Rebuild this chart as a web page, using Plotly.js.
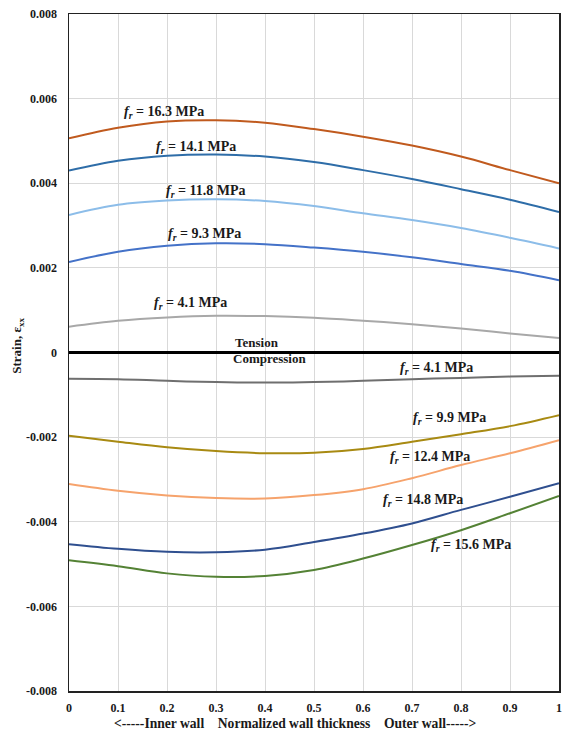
<!DOCTYPE html>
<html>
<head>
<meta charset="utf-8">
<script src="https://cdn.plot.ly/plotly-3.0.1.min.js"></script>
<style>
  html, body { margin: 0; padding: 0; background: #fff; }
  #chart { width: 564px; height: 737px; }
</style>
</head>
<body>
<div id="chart"></div>
<script>
// Normalized wall thickness positions
const xPos = [0, 0.1, 0.2, 0.3, 0.4, 0.5, 0.6, 0.7, 0.8, 0.9, 1.0];

// Tension curves
const t16_3 = [0.00506, 0.00531, 0.00546, 0.00549, 0.00543, 0.00528, 0.00510, 0.00489, 0.00463, 0.00431, 0.00400];
const t14_1 = [0.00430, 0.00453, 0.00465, 0.00468, 0.00463, 0.00450, 0.00431, 0.00410, 0.00386, 0.00361, 0.00332];
const t11_8 = [0.00325, 0.00349, 0.00359, 0.00362, 0.00358, 0.00346, 0.00329, 0.00313, 0.00294, 0.00271, 0.00246];
const t9_3  = [0.00214, 0.00238, 0.00252, 0.00258, 0.00256, 0.00248, 0.00238, 0.00225, 0.00209, 0.00193, 0.00171];
const t4_1  = [0.00061, 0.00075, 0.00083, 0.00087, 0.00086, 0.00082, 0.00075, 0.00067, 0.00057, 0.00045, 0.00034];

// Compression curves
const c4_1  = [-0.00062, -0.00063, -0.00067, -0.00070, -0.00071, -0.00070, -0.00067, -0.00063, -0.00060, -0.00057, -0.00055];
const c9_9  = [-0.00197, -0.00211, -0.00224, -0.00233, -0.00238, -0.00237, -0.00228, -0.00211, -0.00193, -0.00174, -0.00148];
const c12_4 = [-0.00311, -0.00327, -0.00338, -0.00344, -0.00345, -0.00337, -0.00323, -0.00297, -0.00266, -0.00238, -0.00207];
const c14_8 = [-0.00453, -0.00464, -0.00471, -0.00472, -0.00466, -0.00448, -0.00428, -0.00404, -0.00372, -0.00341, -0.00309];
const c15_6 = [-0.00491, -0.00505, -0.00522, -0.00530, -0.00528, -0.00514, -0.00487, -0.00455, -0.00420, -0.00380, -0.00339];

// Tick labels
const xTickVals = [0, 0.1, 0.2, 0.3, 0.4, 0.5, 0.6, 0.7, 0.8, 0.9, 1];
const xTickText = ["0", "0.1", "0.2", "0.3", "0.4", "0.5", "0.6", "0.7", "0.8", "0.9", "1"];
const yTickVals = [0.008, 0.006, 0.004, 0.002, 0, -0.002, -0.004, -0.006, -0.008];
const yTickText = ["0.008", "0.006", "0.004", "0.002", "0", "-0.002", "-0.004", "-0.006", "-0.008"];

// Curve labels (strength values) and where they sit
const labelNames = ["16.3", "14.1", "11.8", "9.3", "4.1", "4.1", "9.9", "12.4", "14.8", "15.6"];
const labelX = [0.194, 0.260, 0.279, 0.276, 0.247, 0.749, 0.777, 0.736, 0.723, 0.820];
const labelY = [0.00568, 0.00484, 0.00380, 0.00279, 0.00115, -0.00037, -0.00157, -0.00249, -0.00350, -0.00457];

const series = [
  {y: t16_3, color: "#C05A1E"},
  {y: t14_1, color: "#2E6DA8"},
  {y: t11_8, color: "#8CBDE9"},
  {y: t9_3,  color: "#4472C8"},
  {y: t4_1,  color: "#A8A8A8"},
  {y: c4_1,  color: "#6F6F6F"},
  {y: c9_9,  color: "#A88A12"},
  {y: c12_4, color: "#F6A36C"},
  {y: c14_8, color: "#2F4F8F"},
  {y: c15_6, color: "#548235"}
];

const traces = series.map(s => ({
  x: xPos, y: s.y, type: "scatter", mode: "lines",
  line: {color: s.color, width: 2, shape: "spline", smoothing: 1.0},
  hoverinfo: "skip", showlegend: false
}));

const font = "Liberation Serif";

const annotations = labelNames.map((n, i) => ({
  x: labelX[i], y: labelY[i], xref: "x", yref: "y",
  text: "<b><i>f</i><sub><i>r</i></sub> = " + n + " MPa</b>",
  showarrow: false, xanchor: "center", yanchor: "middle",
  font: {family: font, size: 14, color: "#1a1a1a"}
}));

annotations.push({
  x: 0.384, y: 0.00023, xref: "x", yref: "y", text: "<b>Tension</b>",
  showarrow: false, xanchor: "center", yanchor: "middle",
  font: {family: font, size: 13, color: "#1a1a1a"}
});
annotations.push({
  x: 0.41, y: -0.00014, xref: "x", yref: "y", text: "<b>Compression</b>",
  showarrow: false, xanchor: "center", yanchor: "middle",
  font: {family: font, size: 13, color: "#1a1a1a"}
});
annotations.push({
  x: 0.463, y: -0.0475, xref: "paper", yref: "paper",
  text: "<b>&lt;-----Inner wall\u00A0\u00A0\u00A0\u00A0Normalized wall thickness\u00A0\u00A0\u00A0\u00A0Outer wall-----&gt;</b>",
  showarrow: false, xanchor: "center", yanchor: "middle",
  font: {family: font, size: 13.6, color: "#1a1a1a"}
});
annotations.push({
  x: -0.104, y: 0.51, xref: "paper", yref: "paper",
  text: "<b>Strain, ε<sub>xx</sub></b>", textangle: -90,
  showarrow: false, xanchor: "center", yanchor: "middle",
  font: {family: font, size: 13, color: "#1a1a1a"}
});

const layout = {
  width: 564, height: 737,
  margin: {l: 69, r: 5, t: 14, b: 46, pad: 0},
  paper_bgcolor: "#ffffff", plot_bgcolor: "#ffffff",
  showlegend: false,
  xaxis: {
    range: [0, 1], tickvals: xTickVals, ticktext: xTickText,
    showgrid: true, gridcolor: "#D9D9D9", gridwidth: 1,
    zeroline: false, showline: true, linecolor: "#222", linewidth: 1.5, mirror: true,
    ticks: "", ticklabelstandoff: 5,
    tickfont: {family: font, size: 12, color: "#1a1a1a", weight: "bold"},
    fixedrange: true
  },
  yaxis: {
    range: [-0.008, 0.008], tickvals: yTickVals, ticktext: yTickText,
    showgrid: true, gridcolor: "#D9D9D9", gridwidth: 1,
    zeroline: true, zerolinecolor: "#000", zerolinewidth: 3,
    showline: true, linecolor: "#222", linewidth: 1.5, mirror: true,
    ticks: "", ticklabelstandoff: 8,
    tickfont: {family: font, size: 12, color: "#1a1a1a", weight: "bold"},
    fixedrange: true
  },
  annotations: annotations
};

Plotly.newPlot("chart", traces, layout, {displayModeBar: false, staticPlot: true});
</script>
</body>
</html>
